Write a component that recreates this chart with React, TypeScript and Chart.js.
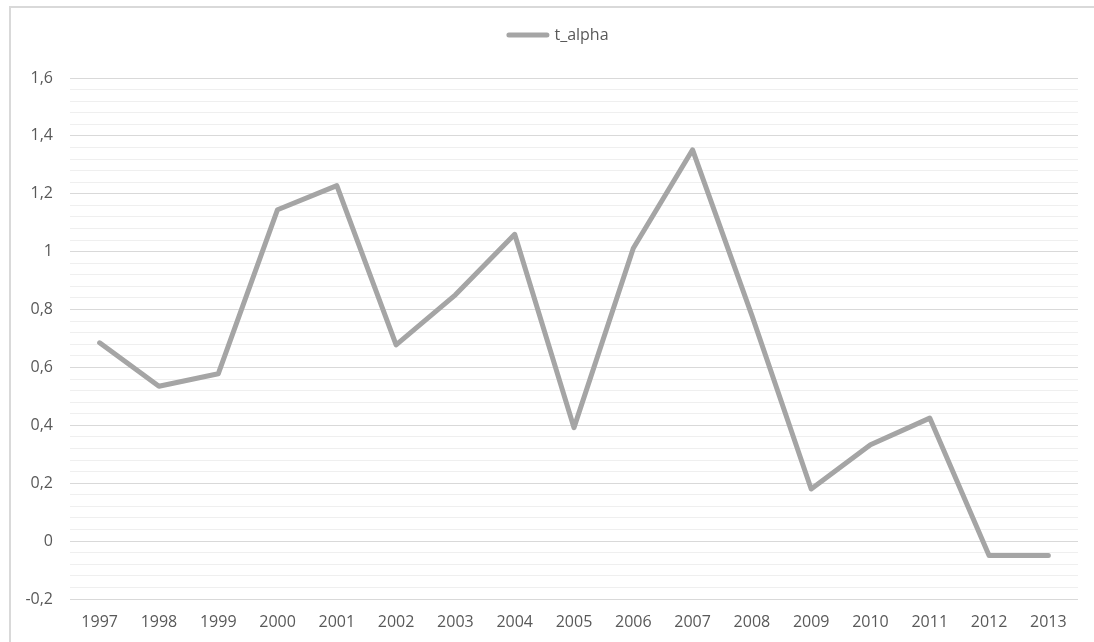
import React, { useEffect, useRef } from "react";
import { Chart, registerables } from "chart.js";

Chart.register(...registerables);

// Yearly t_alpha values
const years = ["1997", "1998", "1999", "2000", "2001", "2002", "2003", "2004", "2005", "2006", "2007", "2008", "2009", "2010", "2011", "2012", "2013"];
const tAlpha = [0.685, 0.535, 0.578, 1.145, 1.228, 0.678, 0.851, 1.06, 0.392, 1.012, 1.352, 0.78, 0.18, 0.333, 0.425, -0.05, -0.05];

const seriesLabel = "t_alpha";
const yMin = -0.2;
const yMax = 1.6;
const minorStep = 0.04;
const minorPerMajor = 5;

const FONT = "'Open Sans', 'Noto Sans', sans-serif";
const TEXT = "#595959";
const LINE = "#a5a5a5";

// Legend drawn above the plot: a short thick line followed by the series name
const legendPlugin = {
  id: "topLegend",
  afterDraw(chart: Chart) {
    const ctx = chart.ctx;
    const ds = chart.data.datasets[0] as any;
    const label = String(ds.label);
    ctx.save();
    ctx.font = `16px ${FONT}`;
    const textW = ctx.measureText(label).width;
    const lineW = 43;
    const gap = 5;
    const total = lineW + gap + textW;
    const cx = chart.width / 2 + 5;
    const x0 = cx - total / 2;
    const y = 27;
    ctx.strokeStyle = ds.borderColor;
    ctx.lineWidth = 5;
    ctx.lineCap = "round";
    ctx.beginPath();
    ctx.moveTo(x0 + 2.5, y);
    ctx.lineTo(x0 + lineW - 2.5, y);
    ctx.stroke();
    ctx.fillStyle = TEXT;
    ctx.textBaseline = "middle";
    ctx.textAlign = "left";
    ctx.fillText(label, x0 + lineW + gap, y);
    ctx.restore();
  },
};

function formatTick(v: number): string {
  const r = Math.round(v * 10) / 10;
  return String(r).replace(".", ",");
}

export default function App() {
  const canvasRef = useRef<HTMLCanvasElement | null>(null);

  useEffect(() => {
    const canvas = canvasRef.current;
    if (!canvas) return;
    const chart = new Chart(canvas, {
      type: "line",
      data: {
        labels: years,
        datasets: [
          {
            label: seriesLabel,
            data: tAlpha,
            borderColor: LINE,
            backgroundColor: LINE,
            borderWidth: 5,
            borderCapStyle: "round",
            borderJoinStyle: "round",
            pointRadius: 0,
            pointHoverRadius: 0,
            tension: 0,
            fill: false,
          },
        ],
      },
      options: {
        animation: false,
        responsive: true,
        maintainAspectRatio: false,
        layout: { padding: { top: 70, right: 16, bottom: 0, left: 0 } },
        plugins: {
          legend: { display: false },
          tooltip: { enabled: false },
        },
        scales: {
          x: {
            type: "category",
            offset: true,
            grid: { display: false, drawTicks: false },
            border: { display: false },
            ticks: {
              color: TEXT,
              font: { family: FONT, size: 16 },
              padding: 14,
              maxRotation: 0,
              autoSkip: false,
            },
            afterFit(scale: any) {
              scale.height = 43;
            },
          },
          y: {
            type: "linear",
            min: yMin,
            max: yMax,
            grid: {
              drawTicks: false,
              lineWidth: 1,
              color: (c: any) => (c.index % minorPerMajor === 0 ? "#d9d9d9" : "#efefef"),
            },
            border: { display: false },
            ticks: {
              stepSize: minorStep,
              autoSkip: false,
              color: TEXT,
              font: { family: FONT, size: 16 },
              padding: 17,
              callback: (value: any, index: number) =>
                index % minorPerMajor === 0 ? formatTick(Number(value)) : "",
            },
            afterFit(scale: any) {
              scale.width = 59;
            },
          },
        },
      },
      plugins: [legendPlugin],
    });
    return () => chart.destroy();
  }, []);

  return (
    <div
      style={{
        position: "fixed",
        left: 9,
        top: 6,
        width: 1085,
        height: 636,
        boxSizing: "border-box",
        borderLeft: "2px solid #d9d9d9",
        borderTop: "2px solid #d9d9d9",
        background: "#ffffff",
      }}
    >
      <div style={{ position: "relative", width: "100%", height: "100%" }}>
        <canvas ref={canvasRef} />
      </div>
    </div>
  );
}
